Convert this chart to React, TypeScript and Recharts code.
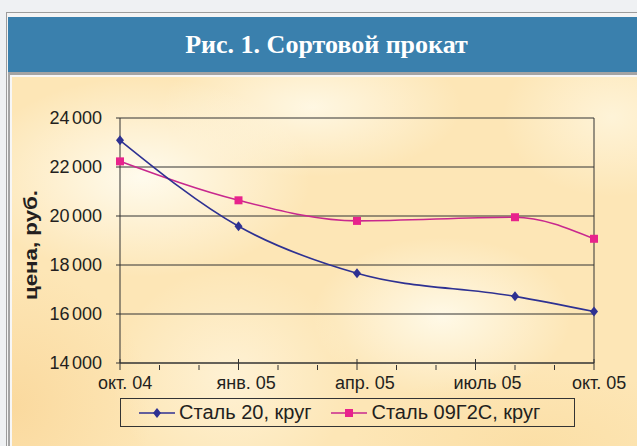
import { LineChart, Line, XAxis, YAxis, CartesianGrid, ReferenceLine } from "recharts";

// months counted from Oct 2004
const pointMonth = [0, 3, 6, 10, 12];
const steel20 = [23090, 19580, 17660, 16720, 16100];
const steel09 = [22230, 20640, 19800, 19950, 19070];

const seriesNames = ["Сталь 20, круг", "Сталь 09Г2С, круг"];
const tickLabels = ["окт. 04", "янв. 05", "апр. 05", "июль 05", "окт. 05"];
const monthTicks = [0, 1, 2, 3, 4, 5, 6, 7, 8, 9, 10, 11, 12];
const priceTicks = [14000, 16000, 18000, 20000, 22000, 24000];

const BLUE = "#2e3192";
const PINK_LINE = "#c8288e";
const PINK = "#e8238c";
const SANS = "'Liberation Sans', Arial, sans-serif";

const rows = pointMonth.map((m, i) => ({ m, s20: steel20[i], s09: steel09[i] }));

const Diamond = ({ cx, cy }: any) => (
  <path d={`M${cx},${cy - 5}L${cx + 4},${cy}L${cx},${cy + 5}L${cx - 4},${cy}Z`} fill={BLUE} />
);

const Square = ({ cx, cy }: any) => <rect x={cx - 4} y={cy - 4} width={8} height={8} fill={PINK} />;

const MonthTick = ({ x, y, payload }: any) => {
  const m = payload.value;
  const major = m % 3 === 0;
  return (
    <g>
      <line x1={x} x2={x} y1={major ? y - 6 : y} y2={y + 5} stroke="#333" />
      {major && (
        <text x={x - 22} y={y + 24} textAnchor="start" fontSize={18} fill="#231f20" fontFamily={SANS}>
          {tickLabels[m / 3]}
        </text>
      )}
    </g>
  );
};

// "24 000" with a narrow gap, right-aligned
const PriceTick = ({ x, y, payload }: any) => {
  const s = String(payload.value);
  return (
    <text x={x} y={y} dy="0.355em" textAnchor="end" fontSize={18} fill="#231f20" fontFamily={SANS}>
      <tspan>{s.slice(0, s.length - 3)}</tspan>
      <tspan dx={2.5}>{s.slice(-3)}</tspan>
    </text>
  );
};

const AxisTitle = () => (
  <text
    x={31}
    y={245}
    transform="rotate(-90, 31, 245)"
    textAnchor="middle"
    dominantBaseline="central"
    fontSize={18}
    fontWeight="bold"
    fill="#231f20"
    fontFamily={SANS}
    textLength={110}
    lengthAdjust="spacingAndGlyphs"
  >
    цена, руб.
  </text>
);

const LegendItem = ({ color, line, marker, name }: any) => (
  <div style={{ display: "flex", alignItems: "center", marginRight: 4 }}>
    <svg width={36} height={12} style={{ marginRight: 4 }}>
      <line x1={0} x2={36} y1={6} y2={6} stroke={line} strokeWidth={1.5} />
      {marker === "d" ? (
        <path d="M18,1L22,6L18,11L14,6Z" fill={color} />
      ) : (
        <rect x={14} y={2} width={8} height={8} fill={color} />
      )}
    </svg>
    <span>{name}</span>
  </div>
);

const panelBg = [
  "radial-gradient(ellipse 170px 100px at 130px 100px, rgba(255,252,240,0.95), rgba(255,252,240,0))",
  "radial-gradient(ellipse 150px 70px at 300px 30px, rgba(255,250,234,0.85), rgba(255,250,234,0))",
  "radial-gradient(ellipse 130px 80px at 430px 240px, rgba(255,251,236,0.9), rgba(255,251,236,0))",
  "radial-gradient(ellipse 110px 80px at 600px 40px, rgba(255,249,230,0.7), rgba(255,249,230,0))",
  "radial-gradient(ellipse 120px 110px at 220px 300px, rgba(255,249,232,0.6), rgba(255,249,232,0))",
  "radial-gradient(ellipse 140px 140px at 0px 330px, rgba(249,212,148,0.7), rgba(249,212,148,0))",
  "radial-gradient(ellipse 180px 80px at 520px 370px, rgba(250,218,155,0.6), rgba(250,218,155,0))",
  "#fde6b6",
].join(", ");

export default function App() {
  return (
    <div
      style={{
        position: "fixed",
        left: 0,
        top: 0,
        width: 637,
        height: 446,
        overflow: "hidden",
        background: "#eff1f3",
        fontFamily: SANS,
      }}
    >
      {/* frame */}
      <div style={{ position: "absolute", left: 6, top: 12, width: 700, height: 500, background: "#f4f4f4", border: "1px solid #9c9c9c" }} />
      <div style={{ position: "absolute", left: 8, top: 17, width: 700, height: 55, background: "#3a80ad" }} />
      <div style={{ position: "absolute", left: 8, top: 72, width: 700, height: 500, background: "#a4a4a4" }} />
      <div style={{ position: "absolute", left: 10, top: 75, width: 700, height: 500, background: "#f7f7f7" }} />
      <div style={{ position: "absolute", left: 12, top: 77, width: 700, height: 500, background: panelBg }} />
      <div
        style={{
          position: "absolute",
          left: 8,
          top: 17,
          width: 637,
          height: 55,
          lineHeight: "55px",
          textAlign: "center",
          color: "#ffffff",
          fontFamily: "'Liberation Serif', 'Times New Roman', serif",
          fontWeight: "bold",
          fontSize: 26,
        }}
      >
        Рис. 1. Сортовой прокат
      </div>

      <div style={{ position: "absolute", left: 0, top: 0 }}>
        <LineChart width={637} height={446} data={rows} margin={{ top: 118, right: 43, bottom: 53, left: 0 }}>
          <CartesianGrid horizontal vertical={false} stroke="#333" />
          <XAxis
            dataKey="m"
            type="number"
            domain={[0, 12]}
            ticks={monthTicks}
            interval={0}
            height={30}
            tickSize={0}
            tickLine={false}
            tick={<MonthTick />}
            axisLine={{ stroke: "#333" }}
          />
          <YAxis
            width={120}
            domain={[14000, 24000]}
            ticks={priceTicks}
            interval={0}
            tickSize={4}
            tickMargin={14}
            tick={<PriceTick />}
            tickLine={{ stroke: "#333" }}
            axisLine={{ stroke: "#333" }}
            label={<AxisTitle />}
          />
          <ReferenceLine x={12} stroke="#333" />
          <Line
            type="monotone"
            dataKey="s09"
            name={seriesNames[1]}
            stroke={PINK_LINE}
            strokeWidth={1.6}
            dot={<Square />}
            isAnimationActive={false}
          />
          <Line
            type="monotone"
            dataKey="s20"
            name={seriesNames[0]}
            stroke={BLUE}
            strokeWidth={1.6}
            dot={<Diamond />}
            isAnimationActive={false}
          />
        </LineChart>
      </div>

      <div
        style={{
          position: "absolute",
          left: 120,
          top: 398,
          width: 455,
          height: 29,
          boxSizing: "border-box",
          border: "1px solid #333",
          display: "flex",
          alignItems: "center",
          paddingLeft: 18,
          fontSize: 20,
          color: "#231f20",
        }}
      >
        <LegendItem color={BLUE} line={BLUE} marker="d" name={seriesNames[0]} />
        <div style={{ width: 16 }} />
        <LegendItem color={PINK} line={PINK_LINE} marker="s" name={seriesNames[1]} />
      </div>
    </div>
  );
}
